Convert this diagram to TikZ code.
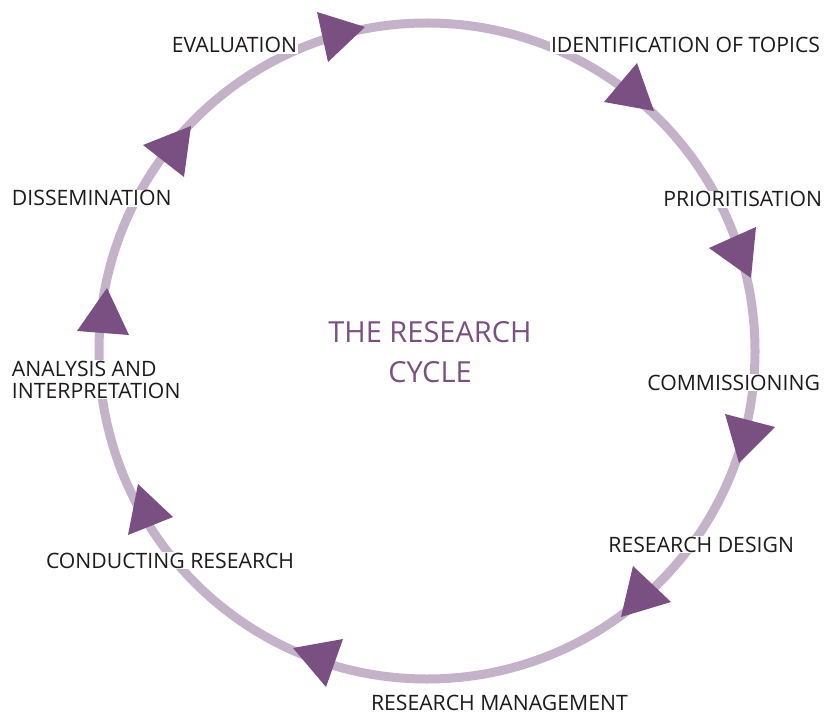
\documentclass[tikz,border=0pt]{standalone}
\usepackage{fontspec}
\setmainfont{Open Sans}
\definecolor{ringc}{RGB}{196,178,201}
\definecolor{arrowc}{RGB}{122,79,130}
\definecolor{textc}{RGB}{30,26,28}
\begin{document}
\begin{tikzpicture}[x=1pt,y=-1pt,
  ring/.style={draw=ringc,line width=9pt},
  tri/.style={fill=arrowc,draw=none},
  lbl/.style={fill=white,inner sep=0.8pt,text=textc,font=\fontsize{21.2}{22}\selectfont},
  ttl/.style={text=arrowc,align=center,inner sep=0pt,font=\fontsize{29}{40}\selectfont}]
\useasboundingbox (0,0) rectangle (824,714);
\coordinate (c) at (427,351);
\draw[ring] (c) circle (328);
% arrowheads
\fill[tri] (317,12) -- (365,27) -- (328,62) -- cycle;
\fill[tri] (637,63) -- (604,102) -- (654,111) -- cycle;
\fill[tri] (756,227) -- (709,248) -- (751,278) -- cycle;
\fill[tri] (725,414) -- (775,427) -- (739,463) -- cycle;
\fill[tri] (633,566) -- (671,602) -- (621,617) -- cycle;
\fill[tri] (293,648) -- (343,639) -- (326,687) -- cycle;
\fill[tri] (138,484) -- (173,517) -- (128,535) -- cycle;
\fill[tri] (107,288) -- (129,335) -- (77,331) -- cycle;
\fill[tri] (191,126) -- (184,177) -- (143,145) -- cycle;
% labels
\node[lbl,anchor=base east] (eval) at (298,53) {EVALUATION};
\node[lbl,anchor=base west] (ident) at (550,53) {IDENTIFICATION OF TOPICS};
\node[lbl,anchor=base east] (prio) at (823,207) {PRIORITISATION};
\node[lbl,anchor=base east] (comm) at (821,390) {COMMISSIONING};
\node[lbl,anchor=base east] (design) at (795,552) {RESEARCH DESIGN};
\node[lbl,anchor=base west] (manage) at (370,710) {RESEARCH MANAGEMENT};
\node[lbl,anchor=base west] (conduct) at (45,568) {CONDUCTING RESEARCH};
\node[lbl,anchor=west,align=left] (anal) at (11,379.5) {ANALYSIS AND\\INTERPRETATION};
\node[lbl,anchor=base west] (dissem) at (11,206) {DISSEMINATION};
\node[ttl] (title) at (430,352) {THE RESEARCH\\CYCLE};
\end{tikzpicture}
\end{document}
